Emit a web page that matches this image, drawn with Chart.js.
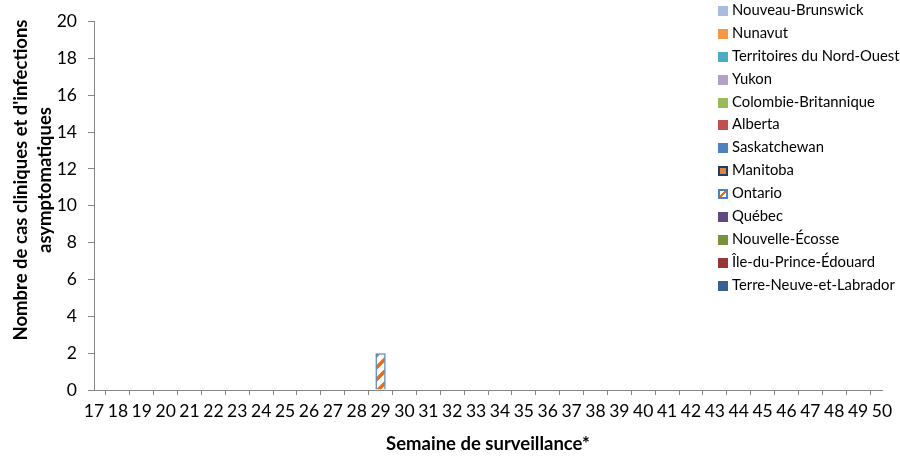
<!DOCTYPE html>
<html>
<head>
<meta charset="utf-8">
<script src="https://cdn.jsdelivr.net/npm/chart.js@4/dist/chart.umd.min.js"></script>
<style>
  html, body { margin: 0; padding: 0; background: #fff; }
  #wrap { position: relative; width: 900px; height: 459px; }
  #legende { position: absolute; left: 718px; top: -2px; font-family: Lato, "Open Sans", sans-serif; font-size: 14.8px; color: #000; }
  #legende div { height: 22.9px; line-height: 22.9px; white-space: nowrap; }
  #legende span.box { display: inline-block; width: 10px; height: 10px; margin-right: 4px; vertical-align: -1px; box-sizing: border-box; }
</style>
</head>
<body>
<div id="wrap">
  <canvas id="graphique" width="900" height="459"></canvas>
  <div id="legende"></div>
</div>
<script>
// Semaines de surveillance
const semaines = ["17","18","19","20","21","22","23","24","25","26","27","28","29","30","31","32","33",
                  "34","35","36","37","38","39","40","41","42","43","44","45","46","47","48","49","50"];

const ticksY = [0, 2, 4, 6, 8, 10, 12, 14, 16, 18, 20];

// cas par province (semaines 17 a 50)
const terreNeuve     = [0,0,0,0,0,0,0,0,0,0,0,0,0,0,0,0,0,0,0,0,0,0,0,0,0,0,0,0,0,0,0,0,0,0];
const ilePE          = [0,0,0,0,0,0,0,0,0,0,0,0,0,0,0,0,0,0,0,0,0,0,0,0,0,0,0,0,0,0,0,0,0,0];
const nouvelleEcosse = [0,0,0,0,0,0,0,0,0,0,0,0,0,0,0,0,0,0,0,0,0,0,0,0,0,0,0,0,0,0,0,0,0,0];
const quebec         = [0,0,0,0,0,0,0,0,0,0,0,0,0,0,0,0,0,0,0,0,0,0,0,0,0,0,0,0,0,0,0,0,0,0];
const ontario        = [0,0,0,0,0,0,0,0,0,0,0,0,2,0,0,0,0,0,0,0,0,0,0,0,0,0,0,0,0,0,0,0,0,0];
const manitoba       = [0,0,0,0,0,0,0,0,0,0,0,0,0,0,0,0,0,0,0,0,0,0,0,0,0,0,0,0,0,0,0,0,0,0];
const saskatchewan   = [0,0,0,0,0,0,0,0,0,0,0,0,0,0,0,0,0,0,0,0,0,0,0,0,0,0,0,0,0,0,0,0,0,0];
const alberta        = [0,0,0,0,0,0,0,0,0,0,0,0,0,0,0,0,0,0,0,0,0,0,0,0,0,0,0,0,0,0,0,0,0,0];
const colombieBrit   = [0,0,0,0,0,0,0,0,0,0,0,0,0,0,0,0,0,0,0,0,0,0,0,0,0,0,0,0,0,0,0,0,0,0];
const yukon          = [0,0,0,0,0,0,0,0,0,0,0,0,0,0,0,0,0,0,0,0,0,0,0,0,0,0,0,0,0,0,0,0,0,0];
const tno            = [0,0,0,0,0,0,0,0,0,0,0,0,0,0,0,0,0,0,0,0,0,0,0,0,0,0,0,0,0,0,0,0,0,0];
const nunavut        = [0,0,0,0,0,0,0,0,0,0,0,0,0,0,0,0,0,0,0,0,0,0,0,0,0,0,0,0,0,0,0,0,0,0];
const nouveauBrunswick = [0,0,0,0,0,0,0,0,0,0,0,0,0,0,0,0,0,0,0,0,0,0,0,0,0,0,0,0,0,0,0,0,0,0];

const police = 'Lato, "Open Sans", sans-serif';

// motif hachure pour l'Ontario
function hachures() {
    const c = document.createElement("canvas");
    c.width = 12; c.height = 12;
    const g = c.getContext("2d");
    g.fillStyle = "#ffffff";
    g.fillRect(0, 0, 12, 12);
    g.strokeStyle = "#F0690F";
    g.lineWidth = 3.5;
    g.beginPath();
    g.moveTo(-2, 14); g.lineTo(14, -2);
    g.moveTo(-2, 2); g.lineTo(2, -2);
    g.moveTo(10, 14); g.lineTo(14, 10);
    g.stroke();
    return g.createPattern(c, "repeat");
}

const provinces = [
    { nom: "Terre-Neuve-et-Labrador", data: terreNeuve, couleur: "#376092" },
    { nom: "Île-du-Prince-Édouard", data: ilePE, couleur: "#953735" },
    { nom: "Nouvelle-Écosse", data: nouvelleEcosse, couleur: "#77933C" },
    { nom: "Québec", data: quebec, couleur: "#604A7B" },
    { nom: "Ontario", data: ontario, couleur: hachures(), bordure: "#4F81BD", css: "linear-gradient(135deg, #fff 0 40%, #F0690F 40% 65%, #fff 65%)" },
    { nom: "Manitoba", data: manitoba, couleur: "#E0853C", bordure: "#1F3E63" },
    { nom: "Saskatchewan", data: saskatchewan, couleur: "#4F81BD" },
    { nom: "Alberta", data: alberta, couleur: "#C0504D" },
    { nom: "Colombie-Britannique", data: colombieBrit, couleur: "#9BBB59" },
    { nom: "Yukon", data: yukon, couleur: "#B3A2C7" },
    { nom: "Territoires du Nord-Ouest", data: tno, couleur: "#4BACC6" },
    { nom: "Nunavut", data: nunavut, couleur: "#F79646" },
    { nom: "Nouveau-Brunswick", data: nouveauBrunswick, couleur: "#A9BCE0" }
];

// titre de l'axe Y (deux lignes)
const titreY = {
    id: "titreY",
    afterDraw(chart) {
        const ctx = chart.ctx;
        ctx.save();
        ctx.translate(0, 180);
        ctx.rotate(-Math.PI / 2);
        ctx.fillStyle = "#000";
        ctx.font = "bold 18.5px " + police;
        ctx.textAlign = "center";
        ctx.textBaseline = "middle";
        ctx.fillText("Nombre de cas cliniques et d'infections", 0, 21);
        ctx.fillText("asymptomatiques", 0, 45);
        ctx.restore();
    }
};

new Chart(document.getElementById("graphique"), {
    type: "bar",
    data: {
        labels: semaines,
        datasets: provinces.map(p => ({
            label: p.nom,
            data: p.data,
            backgroundColor: p.couleur,
            borderColor: p.bordure || p.couleur,
            borderWidth: p.bordure ? 1.5 : 0,
            categoryPercentage: 1,
            barPercentage: 0.43
        }))
    },
    options: {
        responsive: false,
        animation: false,
        layout: { padding: { top: 20, right: 18, left: 0, bottom: 0 } },
        plugins: {
            legend: { display: false },
            tooltip: { enabled: false }
        },
        scales: {
            x: {
                stacked: true,
                offset: false,
                grid: { display: true, drawOnChartArea: false, drawTicks: true, tickLength: 5, color: "#868686" },
                border: { color: "#868686" },
                ticks: { autoSkip: false, maxRotation: 0, padding: 6, color: "#000", font: { family: police, size: 17.5 } },
                title: { display: true, text: "Semaine de surveillance*", color: "#000", font: { family: police, size: 18.5, weight: "bold" }, padding: { top: 3 } },
                afterFit: s => { s.height = 69; }
            },
            y: {
                stacked: true,
                min: 0,
                max: 20,
                afterBuildTicks: s => { s.ticks = ticksY.map(v => ({ value: v })); },
                grid: { display: true, drawOnChartArea: false, drawTicks: true, tickLength: 6, color: "#868686" },
                border: { color: "#868686" },
                ticks: { padding: 11, color: "#000", font: { family: police, size: 17.5 } },
                afterFit: s => { s.width = 94; }
            }
        }
    },
    plugins: [titreY]
});

// legende (ordre inverse comme dans Excel)
const leg = document.getElementById("legende");
provinces.slice().reverse().forEach(p => {
    const d = document.createElement("div");
    const b = document.createElement("span");
    b.className = "box";
    b.style.background = p.css || p.couleur;
    if (p.bordure) b.style.border = "2px solid " + p.bordure;
    d.appendChild(b);
    d.appendChild(document.createTextNode(p.nom));
    leg.appendChild(d);
});
</script>
</body>
</html>
